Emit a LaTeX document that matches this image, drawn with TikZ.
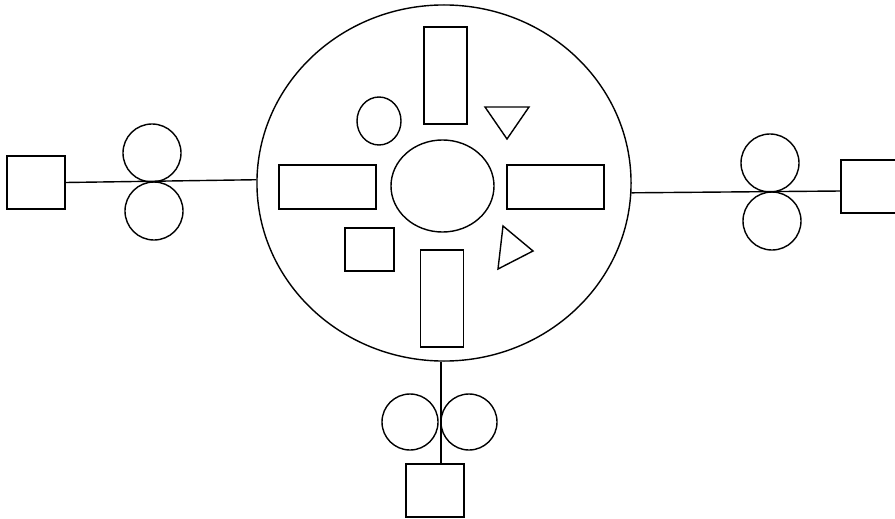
\documentclass[tikz,border=0pt]{standalone}
\usepackage{tikz}
\usetikzlibrary{shapes.geometric}

\begin{document}
\begin{tikzpicture}[x=0.025cm,y=-0.025cm,line width=1pt,
  box/.style={draw,rectangle,inner sep=0pt,minimum width=1.45cm,minimum height=1.325cm},
  roll/.style={draw,circle,inner sep=0pt,minimum size=1.45cm},
  vbar/.style={draw,rectangle,inner sep=0pt,minimum width=1.075cm,minimum height=2.425cm},
  hbar/.style={draw,rectangle,inner sep=0pt,minimum width=2.425cm,minimum height=1.1cm}]
\useasboundingbox (0,0) rectangle (895,519);
% drum
\node[draw,ellipse,inner sep=0pt,minimum width=9.35cm,minimum height=8.9cm] (hub) at (444,183) {};
\node[vbar] (barN) at (445.5,75.5) {};
\node[vbar] (barS) at (442,298.5) {};
\node[hbar] (barW) at (327.5,187) {};
\node[hbar] (barE) at (555.5,187) {};
\node[draw,ellipse,inner sep=0pt,minimum width=2.575cm,minimum height=2.3cm] (core) at (442.5,186) {};
\node[draw,ellipse,inner sep=0pt,minimum width=1.1cm,minimum height=1.2cm] (dot) at (379,121) {};
\node[draw,rectangle,inner sep=0pt,minimum width=1.225cm,minimum height=1.075cm] (blk) at (369.5,249.5) {};
\draw (485,107)--(529,107)--(507,139)--cycle;
\draw (503,226)--(533,251)--(498,269)--cycle;
% feeds
\node[box] (boxW) at (36,182.5) {};
\node[box] (boxE) at (870,186.5) {};
\node[box] (boxS) at (435,490.5) {};
\coordinate (inE) at (841,191);
\draw (boxW.east) -- (hub.179);
\draw (hub.-3) -- (inE);
\draw (hub.-91) -- (hub.-91 |- boxS.north);
\node[roll] (rollW1) at (152,153) {};
\node[roll] (rollW2) at (154,211) {};
\node[roll] (rollE1) at (770,163) {};
\node[roll] (rollE2) at (772,221) {};
\node[roll,minimum size=1.4cm] (rollS1) at (410,422) {};
\node[roll,minimum size=1.4cm] (rollS2) at (469,422) {};
\end{tikzpicture}
\end{document}
